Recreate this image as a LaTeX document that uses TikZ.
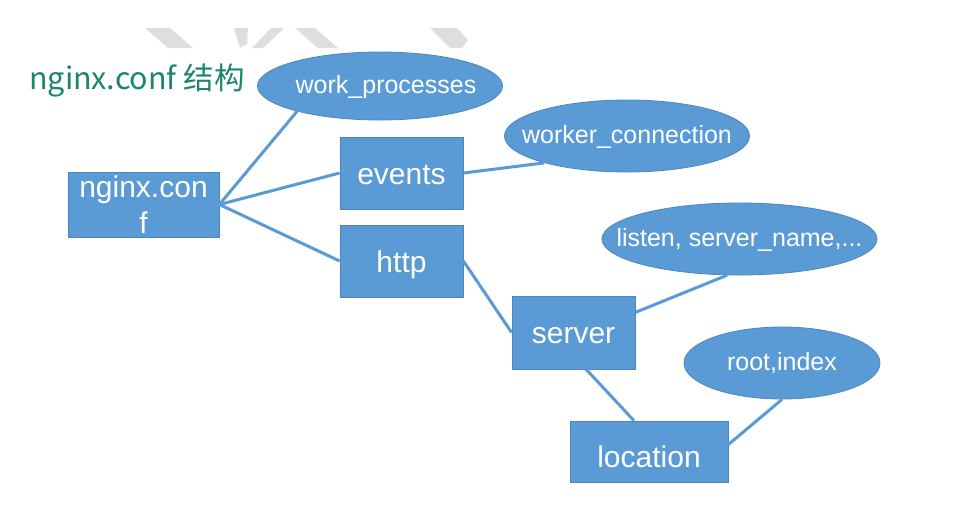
\documentclass[tikz,border=0pt]{standalone}
\usepackage{fontspec}
\setmainfont{Liberation Sans}
\newfontfamily\cjk{Noto Sans CJK SC}
\usetikzlibrary{shapes.geometric}
\definecolor{nblue}{HTML}{5B9BD5}
\definecolor{nedge}{HTML}{4A86C2}
\definecolor{ttl}{HTML}{1A876A}
\definecolor{wm}{HTML}{DEDEDE}
\begin{document}
\begin{tikzpicture}[x=1pt,y=-1pt,
  box/.style={draw=nedge, line width=0.8pt, fill=nblue, text=white, inner sep=0pt,
    text height=22pt, text depth=0pt, font=\fontsize{30}{36}\selectfont},
  oval/.style={ellipse, draw=nedge, line width=0.8pt, fill=nblue, inner sep=0pt},
  ovaltext/.style={text=white, inner sep=0pt, text height=14pt, text depth=0pt,
    font=\fontsize{25}{30}\selectfont},
  link/.style={draw=nblue, line width=3pt}]
\useasboundingbox[fill=white] (0,0) rectangle (972,517);
% faint watermark pieces
\fill[wm] (145,28) -- (170,28) -- (193,48) -- (168,48) -- cycle;
\fill[wm] (234,28) -- (248,28) -- (247,44) -- (240,48) -- cycle;
\fill[wm] (252,48) -- (263,48) -- (284,28) -- (271,28) -- cycle;
\fill[wm] (295,28) -- (315,28) -- (338,48) -- (318,48) -- cycle;
\fill[wm] (430,28) -- (457,28) -- (468,40) -- (462,48) -- (450,48) -- cycle;
% title
\node[anchor=base west, inner sep=0pt, text=ttl, font=\cjk\fontsize{30.5}{36}\selectfont] (title) at (29,89) {nginx.conf 结构};
% nodes
\node[box, minimum width=151pt, minimum height=65pt, align=center, text height=, text depth=] (nc) at (143.5,204.5) {nginx.con\\f};
\node[box, minimum width=123pt, minimum height=72pt] (events) at (401.5,173) {events};
\node[box, minimum width=123pt, minimum height=72pt] (http) at (401.5,261) {http};
\node[box, minimum width=123pt, minimum height=73pt] (server) at (573.5,332.5) {server};
\node[box, minimum width=158pt, minimum height=61pt, text height=32pt] (location) at (649,451.5) {location};
\node[oval, minimum width=245pt, minimum height=68pt] (work) at (380,86) {};
\node[ovaltext] (worktext) at ([xshift=6pt]work.center) {work\_processes};
\node[oval, minimum width=245pt, minimum height=72pt] (worker) at (627,136) {};
\node[ovaltext] (workertext) at (worker.center) {worker\_connection};
\node[oval, minimum width=275pt, minimum height=72pt] (listen) at (739.5,239) {};
\node[ovaltext] (listentext) at (listen.center) {listen, server\_name,...};
\node[oval, minimum width=196pt, minimum height=72pt] (root) at (782,363) {};
\node[ovaltext] (roottext) at (root.center) {root,index};
% connectors
\draw[link] (nc.east) -- (work.197);
\draw[link] (nc.east) -- (events.west);
\draw[link] (nc.east) -- (http.west);
\draw[link] (events.east) -- (worker.198);
\draw[link] (http.east) -- (server.west);
\draw[link] (server.18) -- (listen.251);
\draw[link] (server.289) -- (location.116);
\draw[link] (root.south) -- (location.5);
\end{tikzpicture}
\end{document}
